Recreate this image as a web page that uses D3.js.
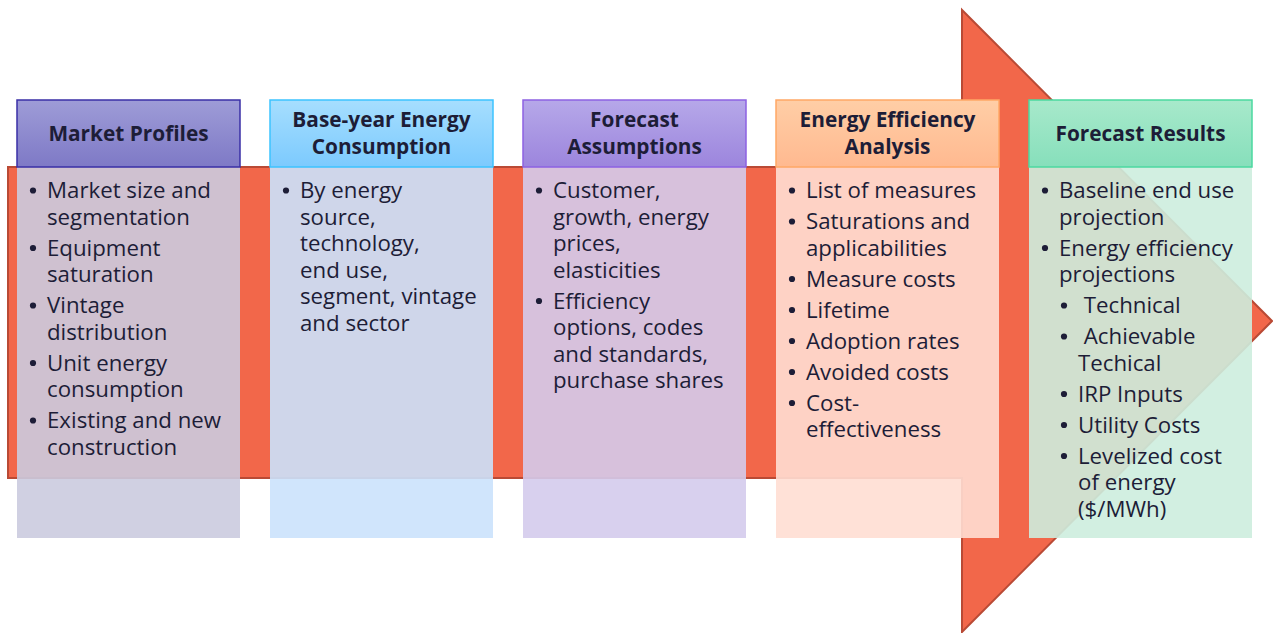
<!DOCTYPE html>
<html><head><meta charset="utf-8">
<script src="https://cdn.jsdelivr.net/npm/d3@7"></script>
<style>
html,body{margin:0;padding:0;background:#fff;}
svg{display:block;font-family:"Open Sans","Noto Sans",sans-serif;}
</style></head>
<body><div id="chart"></div>
<script>
// ---- data ----
const stages = ["Market Profiles","Base-year Energy Consumption","Forecast Assumptions","Energy Efficiency Analysis","Forecast Results"];
const headerLines = [
  ["Market Profiles"],
  ["Base-year Energy","Consumption"],
  ["Forecast","Assumptions"],
  ["Energy Efficiency","Analysis"],
  ["Forecast Results"]
];
// each item: [level, lines]
const items1 = [[0,["Market size and","segmentation"]],[0,["Equipment","saturation"]],[0,["Vintage","distribution"]],[0,["Unit energy","consumption"]],[0,["Existing and new","construction"]]];
const items2 = [[0,["By energy","source,","technology,","end use,","segment, vintage","and sector"]]];
const items3 = [[0,["Customer,","growth, energy","prices,","elasticities"]],[0,["Efficiency","options, codes","and standards,","purchase shares"]]];
const items4 = [[0,["List of measures"]],[0,["Saturations and","applicabilities"]],[0,["Measure costs"]],[0,["Lifetime"]],[0,["Adoption rates"]],[0,["Avoided costs"]],[0,["Cost-","effectiveness"]]];
const items5 = [[0,["Baseline end use","projection"]],[0,["Energy efficiency","projections"]],[1,[" Technical"]],[1,[" Achievable","Techical"]],[1,["IRP Inputs"]],[1,["Utility Costs"]],[1,["Levelized cost","of energy","($/MWh)"]]];
const stageItems = [items1, items2, items3, items4, items5];
const headerTop = ["#9e9cd7","#a6defe","#b6a8e9","#ffcea6","#a8e9cb"];
const headerBot = ["#7e79c6","#7ccafe","#9c85dd","#ffb990","#86dfbb"];
const headerStroke = ["#3a2fa6","#3cc3ff","#8d62e2","#ffa866","#4bd9a0"];
const bodyFill = ["#cbcbdf","#cbe2fc","#d4cbec","#ffded3","#cdedde"];

// ---- layout ----
const W = 1273, H = 633;
const svg = d3.select("#chart").append("svg").attr("width", W).attr("height", H);
const defs = svg.append("defs");

function measure(txt, size, weight) {
  const t = svg.append("text").attr("font-size", size).attr("font-weight", weight).text(txt);
  const w = t.node().getComputedTextLength();
  t.remove();
  return w;
}
const bodySize = 20 * 164 / measure("Market size and", 20, 400);
const headSize = 20 * 176 / measure("Energy Efficiency", 20, 700);

const x = d3.scaleBand().domain(stages).range([17, 1252]).paddingInner(30/253);
const bw = x.bandwidth();
const hTop = 100, hBot = 167, bBot = 538;

// arrow
const shaftTop = 167, shaftBot = 478, shaftL = 8, headX = 962, headTop = 10, headBot = 632, tipX = 1272;
const yMid = (headTop + headBot) / 2;
const arrowPts = [[shaftL,shaftTop],[headX,shaftTop],[headX,headTop],[tipX,yMid],[headX,headBot],[headX,shaftBot],[shaftL,shaftBot]];
svg.append("path")
  .attr("d", d3.line()(arrowPts) + "Z")
  .attr("fill", "#f2674a")
  .attr("stroke", "#b94a35")
  .attr("stroke-width", 2)
  .attr("stroke-linejoin", "miter");

stages.forEach((s, i) => {
  const g = defs.append("linearGradient").attr("id", "hg" + i).attr("x1", 0).attr("y1", 0).attr("x2", 0).attr("y2", 1);
  g.append("stop").attr("offset", "0%").attr("stop-color", headerTop[i]);
  g.append("stop").attr("offset", "100%").attr("stop-color", headerBot[i]);
});

const boxes = svg.selectAll("g.box").data(stages).join("g").attr("class", "box")
  .attr("transform", d => `translate(${x(d)},0)`);

boxes.append("rect")
  .attr("x", 0).attr("y", hBot).attr("width", bw).attr("height", bBot - hBot)
  .attr("fill", (d, i) => bodyFill[i]).attr("fill-opacity", 0.9);

boxes.append("rect")
  .attr("x", 0).attr("y", hTop).attr("width", bw).attr("height", hBot - hTop)
  .attr("fill", (d, i) => `url(#hg${i})`)
  .attr("stroke", (d, i) => headerStroke[i]).attr("stroke-width", 1.5);

const textColor = "#1d1d37";
boxes.each(function(d, i) {
  const g = d3.select(this);
  const lines = headerLines[i];
  const cy = (hTop + hBot) / 2;
  const lh = 27;
  const ht = g.append("text")
    .attr("text-anchor", "middle")
    .attr("font-weight", 700)
    .attr("font-size", headSize)
    .attr("fill", textColor);
  lines.forEach((t, k) => {
    ht.append("tspan")
      .attr("x", bw / 2)
      .attr("y", cy + (k - (lines.length - 1) / 2) * lh + 7)
      .text(t);
  });
  let y = 198;
  const lineH = 26.5, gap = 4.5;
  stageItems[i].forEach(([lvl, ls], j) => {
    if (j > 0) y += gap;
    const bx = lvl === 0 ? 16 : 35;
    const tx = lvl === 0 ? 30 : 49;
    g.append("circle").attr("cx", bx).attr("cy", y - 7.5).attr("r", 3.1).attr("fill", textColor);
    const it = g.append("text")
      .attr("font-size", bodySize).attr("fill", textColor)
      .attr("xml:space", "preserve").style("white-space", "pre");
    ls.forEach((t, k) => {
      it.append("tspan").attr("x", tx).attr("y", y + k * lineH).text(t);
    });
    y += ls.length * lineH;
  });
});
</script></body></html>
